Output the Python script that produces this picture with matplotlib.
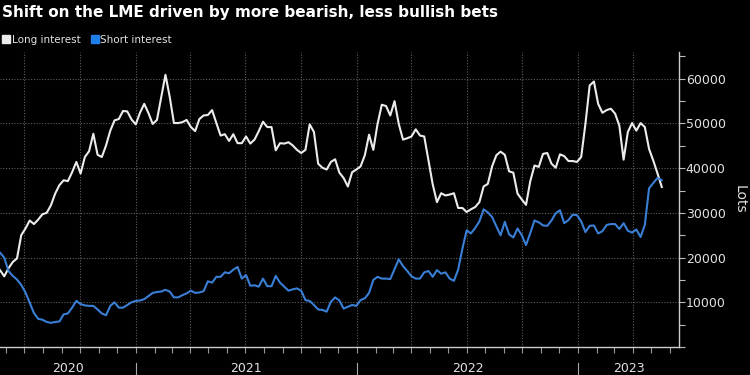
import matplotlib
matplotlib.use("Agg")
import matplotlib.pyplot as plt
import matplotlib.dates as mdates
import matplotlib.transforms as mtransforms
from matplotlib.lines import Line2D
from matplotlib.ticker import MultipleLocator, NullFormatter
import pandas as pd

# weekly LME positioning, lots
dates = pd.date_range(end="2023-05-19", periods=157, freq="7D")

long_interest = [
    17200, 15800, 17600, 19000, 19800, 25000, 26500, 28300, 27500, 28500,
    29700, 30000, 31700, 34300, 36200, 37300, 37100, 39100, 41400, 38800,
    42500, 43800, 47700, 43000, 42500, 45100, 48400, 50700, 51000, 52800,
    52700, 50900, 49800, 52400, 54400, 52300, 49900, 50800, 55800, 60900,
    56000, 50100, 50100, 50300, 50800, 49200, 48300, 51000, 51800, 51900,
    53000, 50100, 47300, 47600, 46100, 47600, 45600, 45600, 47100, 45500,
    46400, 48300, 50400, 49200, 49200, 44000, 45600, 45500, 45800, 45100,
    44100, 43400, 44100, 49800, 48100, 41000, 40100, 39700, 41400, 42000,
    39000, 37800, 35900, 39100, 39700, 40400, 42900, 47500, 44100, 49900,
    54200, 53900, 51800, 55000, 49900, 46400, 46700, 47100, 48700, 47300,
    47100, 41700, 36400, 32400, 34400, 33900, 34100, 34400, 31100, 31100,
    30200, 30800, 31300, 32400, 35900, 36500, 40400, 42900, 43700, 43000,
    39300, 39000, 34300, 33000, 31800, 37100, 40600, 40300, 43200, 43400,
    41000, 40100, 43100, 42700, 41600, 41600, 41400, 42500, 49900, 58500,
    59400, 54400, 52400, 53000, 53300, 52200, 49500, 41900, 48100, 50100,
    48400, 50100, 49200, 44300, 41700, 38800, 35800,
]

short_interest = [
    21100, 20000, 17000, 15900, 15100, 13900, 12200, 9900, 7600, 6300,
    6100, 5600, 5400, 5600, 5700, 7300, 7500, 8800, 10300, 9600,
    9300, 9200, 9200, 8400, 7500, 7100, 9200, 10000, 8800, 8800,
    9400, 10000, 10300, 10400, 10700, 11400, 12100, 12300, 12400, 12800,
    12400, 11100, 11100, 11600, 12000, 12600, 12100, 12200, 12500, 14700,
    14400, 15700, 15700, 16700, 16500, 17300, 17900, 15300, 16100, 13700,
    13800, 13500, 15300, 13600, 13600, 15900, 14400, 13500, 12600, 12900,
    13100, 12600, 10500, 10300, 9400, 8400, 8300, 7900, 10100, 11100,
    10400, 8600, 9000, 9400, 9200, 10500, 10900, 12100, 15000, 15700,
    15300, 15300, 15200, 17400, 19600, 18100, 17000, 15800, 15300, 15300,
    16700, 17000, 15700, 17200, 16400, 16700, 15300, 14800, 17300, 22000,
    26100, 25400, 26600, 28100, 30800, 30100, 29100, 27000, 25000, 28000,
    25200, 24500, 26500, 25000, 22800, 25500, 28300, 27900, 27200, 27100,
    28300, 29900, 30600, 27700, 28400, 29600, 29500, 28100, 25700, 27100,
    27200, 25400, 25900, 27300, 27500, 27500, 26400, 27700, 26000, 25600,
    26300, 24600, 27300, 35500, 36700, 37800, 37300,
]

years = ["2020", "2021", "2022", "2023"]
x_end = pd.Timestamp("2023-06-16")

WHITE = "#ececec"
BLUE = "#3a7fd5"
TXT = "#e2e2e2"

fig = plt.figure(figsize=(7.5, 3.75), dpi=100, facecolor="black")
ax = fig.add_axes([0, 0.0747, 0.905, 0.7867], facecolor="black")

ax.plot(dates, long_interest, color=WHITE, lw=1.5, zorder=3)
ax.plot(dates, short_interest, color=BLUE, lw=1.5, zorder=3)

ax.set_xlim(dates[0], x_end)
ax.set_ylim(0, 66000)

# y axis on the right
ax.yaxis.tick_right()
ax.set_yticks(range(10000, 60001, 10000))
ax.yaxis.set_minor_locator(MultipleLocator(5000))
ax.tick_params(axis="y", which="both", direction="out", length=4, width=0.8,
               color="#bbbbbb", labelcolor=TXT, labelsize=9, pad=1)

# x axis: quarterly grid, monthly ticks
ax.xaxis.set_major_locator(mdates.MonthLocator(bymonth=[1, 4, 7, 10]))
ax.xaxis.set_minor_locator(mdates.MonthLocator())
ax.xaxis.set_major_formatter(NullFormatter())
ax.tick_params(axis="x", which="both", direction="out", length=4, width=0.8,
               color="#999999")

ax.grid(True, which="major", color="#5e5e5e", linestyle=(0, (1, 1.5)), lw=0.8)

for s in ["left", "top"]:
    ax.spines[s].set_visible(False)
for s in ["right", "bottom"]:
    ax.spines[s].set_color("#cccccc")
    ax.spines[s].set_linewidth(1)

# year labels centred on the visible part of each year
trans = mtransforms.blended_transform_factory(ax.transData, ax.transAxes)
for yr in years:
    a = max(pd.Timestamp(yr + "-01-01"), dates[0])
    b = min(pd.Timestamp(str(int(yr) + 1) + "-01-01"), x_end)
    ax.text(a + (b - a) / 2, -0.05, yr, transform=trans, ha="center", va="top",
            color=TXT, fontsize=9)
    if int(yr) > 2020:
        ax.axvline(pd.Timestamp(yr + "-01-01"), ymin=-0.054, ymax=-0.1,
                   color="#aaaaaa", lw=0.8, clip_on=False)

fig.text(740 / 750, 1 - 199 / 375, "Lots", rotation=270, ha="center", va="center",
         color=TXT, fontsize=10)

fig.text(2 / 750, 1 - 13 / 375, "Shift on the LME driven by more bearish, less bullish bets",
         color="white", fontsize=11, fontweight="bold", va="center", ha="left")

handles = [Line2D([], [], marker="s", ls="none", color=WHITE, markersize=5.5),
           Line2D([], [], marker="s", ls="none", color="#1f7fe8", markersize=5.5)]
fig.legend(handles, ["Long interest", "Short interest"], loc="center left",
           bbox_to_anchor=(0.003, 1 - 40 / 375), ncol=2, frameon=False,
           fontsize=7.5, labelcolor=TXT, handletextpad=0.1, handlelength=0.8,
           columnspacing=1.0, borderaxespad=0, borderpad=0)

fig.savefig("out.png", dpi=100, facecolor="black")
